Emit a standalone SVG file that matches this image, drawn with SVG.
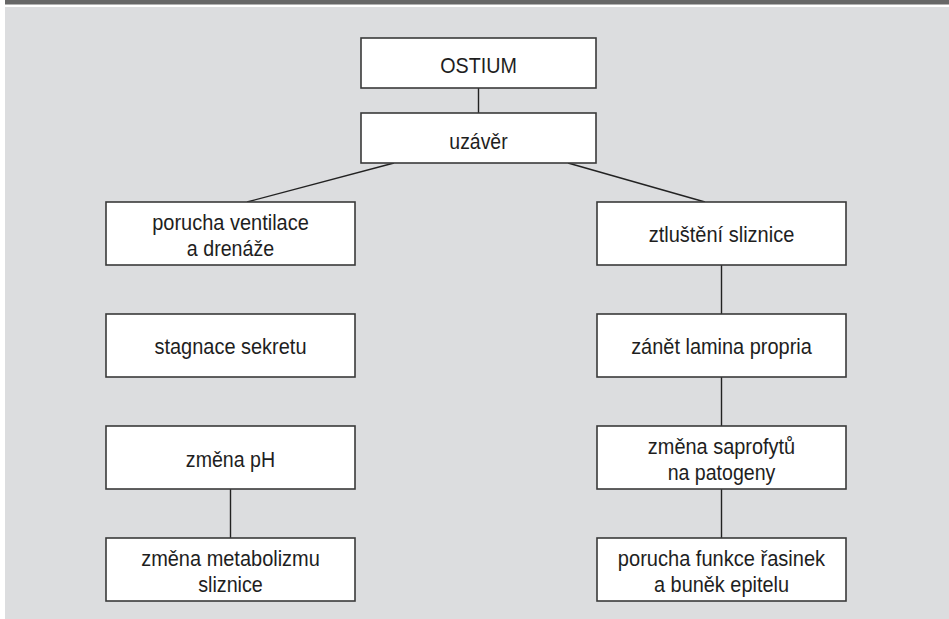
<svg xmlns="http://www.w3.org/2000/svg" width="949" height="619" viewBox="0 0 949 619">
<style>
.box{fill:#ffffff;stroke:#3a3a3a;stroke-width:1.6}
.lbl{font-family:"Liberation Sans",Arial,sans-serif;font-size:21.5px;fill:#1e1e1e;text-anchor:middle}
.con{stroke:#222222;stroke-width:1.4;fill:none}
</style>
<rect x="0" y="0" width="949" height="619" fill="#ffffff"/>
<rect x="5" y="0" width="944" height="4.5" fill="#676767"/>
<rect x="5" y="7" width="944" height="612" fill="#dcdddf"/>
<g id="connectors">
<line class="con" x1="478.5" y1="88" x2="478.5" y2="113"/>
<line class="con" x1="394" y1="163" x2="247" y2="202"/>
<line class="con" x1="568" y1="163" x2="705" y2="202"/>
<line class="con" x1="721.5" y1="265" x2="721.5" y2="314"/>
<line class="con" x1="721.5" y1="377" x2="721.5" y2="426"/>
<line class="con" x1="721.5" y1="489" x2="721.5" y2="538"/>
<line class="con" x1="230.5" y1="489" x2="230.5" y2="538"/>
</g>
<g id="ostium"><rect class="box" x="361" y="38" width="235" height="50"/><text class="lbl" x="478.5" y="73" textLength="76.7" lengthAdjust="spacingAndGlyphs">OSTIUM</text></g>
<g id="uzaver"><rect class="box" x="361" y="113" width="235" height="50"/><text class="lbl" x="478.5" y="149" textLength="58.3" lengthAdjust="spacingAndGlyphs">uzávěr</text></g>
<g id="porucha-ventilace"><rect class="box" x="106" y="202" width="249" height="63"/><text class="lbl" x="230.5" y="229.5" textLength="156.7" lengthAdjust="spacingAndGlyphs">porucha ventilace</text><text class="lbl" x="230.5" y="256" textLength="87.3" lengthAdjust="spacingAndGlyphs">a drenáže</text></g>
<g id="stagnace"><rect class="box" x="106" y="314" width="249" height="63"/><text class="lbl" x="230.5" y="354" textLength="152" lengthAdjust="spacingAndGlyphs">stagnace sekretu</text></g>
<g id="zmena-ph"><rect class="box" x="106" y="426" width="249" height="63"/><text class="lbl" x="230.5" y="466.5" textLength="89.3" lengthAdjust="spacingAndGlyphs">změna pH</text></g>
<g id="zmena-metabolizmu"><rect class="box" x="106" y="538" width="249" height="63"/><text class="lbl" x="230.5" y="565.5" textLength="178.7" lengthAdjust="spacingAndGlyphs">změna metabolizmu</text><text class="lbl" x="230.5" y="592" textLength="64.7" lengthAdjust="spacingAndGlyphs">sliznice</text></g>
<g id="ztlusteni"><rect class="box" x="597" y="202" width="249" height="63"/><text class="lbl" x="721.5" y="241.5" textLength="145.7" lengthAdjust="spacingAndGlyphs">ztluštění sliznice</text></g>
<g id="zanet"><rect class="box" x="597" y="314" width="249" height="63"/><text class="lbl" x="721.5" y="353.5" textLength="180.7" lengthAdjust="spacingAndGlyphs">zánět lamina propria</text></g>
<g id="zmena-saprofytu"><rect class="box" x="597" y="426" width="249" height="63"/><text class="lbl" x="721.5" y="453.5" textLength="147.3" lengthAdjust="spacingAndGlyphs">změna saprofytů</text><text class="lbl" x="721.5" y="480" textLength="107.7" lengthAdjust="spacingAndGlyphs">na patogeny</text></g>
<g id="porucha-funkce"><rect class="box" x="597" y="538" width="249" height="63"/><text class="lbl" x="721.5" y="565.5" textLength="207.3" lengthAdjust="spacingAndGlyphs">porucha funkce řasinek</text><text class="lbl" x="721.5" y="592" textLength="135" lengthAdjust="spacingAndGlyphs">a buněk epitelu</text></g>
</svg>
